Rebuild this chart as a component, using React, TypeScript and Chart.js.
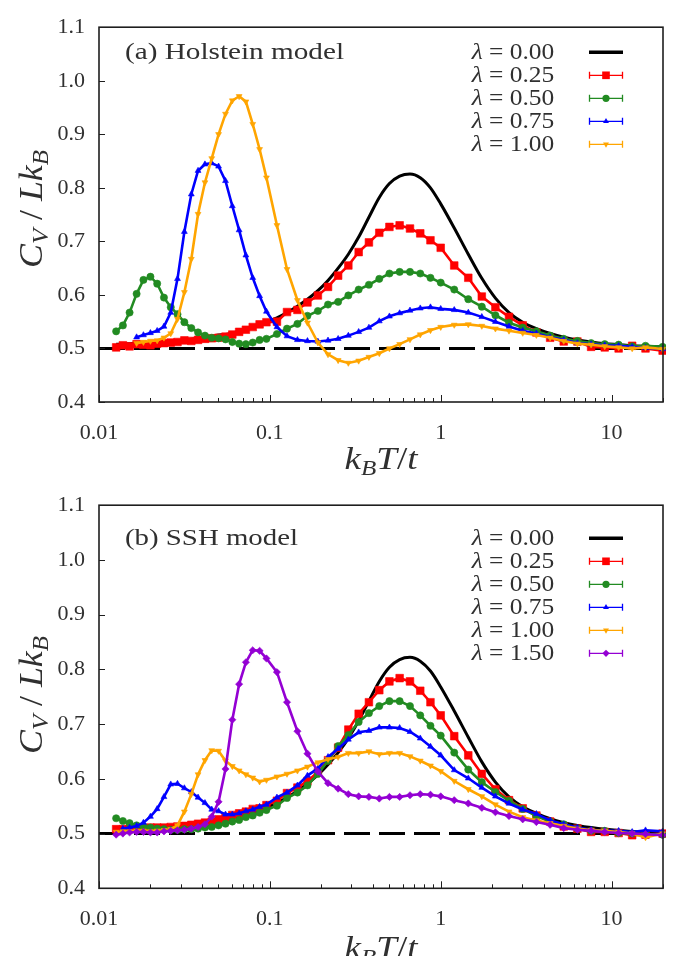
import React, { useEffect, useRef } from "react";
import { Chart, registerables } from "chart.js";

Chart.register(...registerables);

// ---------------- data ----------------
const temperatures = [
  0.0126, 0.0138, 0.0151, 0.0166, 0.0182, 0.02, 0.0219, 0.024, 0.0263, 0.0288,
  0.0316, 0.0347, 0.038, 0.0417, 0.0457, 0.0501, 0.055, 0.0603, 0.0661, 0.0724,
  0.0794, 0.0871, 0.0955, 0.11, 0.126, 0.145, 0.166, 0.191, 0.219, 0.251,
  0.288, 0.331, 0.38, 0.437, 0.501, 0.575, 0.661, 0.759, 0.871, 1.0,
  1.2, 1.45, 1.74, 2.09, 2.51, 3.02, 3.63, 4.37, 5.25, 6.31,
  7.59, 9.12, 11.0, 13.2, 15.8, 19.9,
];

// (a) Holstein model
const holsteinL000 = [
  0.508, 0.508, 0.509, 0.51, 0.51, 0.511, 0.511, 0.513, 0.513, 0.514,
  0.516, 0.517, 0.519, 0.52, 0.522, 0.525, 0.526, 0.529, 0.532, 0.536,
  0.54, 0.544, 0.549, 0.557, 0.567, 0.579, 0.592, 0.608, 0.627, 0.65,
  0.676, 0.708, 0.745, 0.782, 0.808, 0.822, 0.826, 0.819, 0.8, 0.77,
  0.725, 0.676, 0.631, 0.594, 0.567, 0.549, 0.537, 0.528, 0.521, 0.516,
  0.512, 0.509, 0.507, 0.505, 0.504, 0.503,
];
const holsteinL025 = [
  0.502, 0.506, 0.504, 0.508, 0.507, 0.506, 0.509, 0.51, 0.511, 0.512,
  0.515, 0.514, 0.516, 0.518, 0.519, 0.52, 0.522, 0.526, 0.531, 0.535,
  0.54, 0.545, 0.549, 0.55, 0.568, 0.572, 0.586, 0.599, 0.615, 0.636,
  0.655, 0.68, 0.698, 0.716, 0.727, 0.73, 0.724, 0.715, 0.702, 0.688,
  0.655, 0.632, 0.597, 0.577, 0.559, 0.543, 0.53, 0.52, 0.513, 0.513,
  0.503, 0.502, 0.5, 0.505, 0.5, 0.496,
];
const holsteinL050 = [
  0.532, 0.543, 0.567, 0.602, 0.628, 0.634, 0.621, 0.595, 0.577, 0.564,
  0.549, 0.538, 0.53, 0.524, 0.52, 0.519, 0.517, 0.512, 0.509, 0.508,
  0.511, 0.516, 0.518, 0.527, 0.537, 0.546, 0.561, 0.57, 0.582, 0.587,
  0.599, 0.61, 0.619, 0.63, 0.64, 0.643, 0.643, 0.64, 0.632, 0.623,
  0.61, 0.592, 0.578, 0.562, 0.548, 0.539, 0.532, 0.524, 0.518, 0.514,
  0.51, 0.508, 0.507, 0.504, 0.505, 0.503,
];
const holsteinL075 = [
  null, null, null, 0.521, 0.525, 0.529, 0.533, 0.541, 0.567, 0.63,
  0.718, 0.788, 0.832, 0.844, 0.846, 0.84, 0.813, 0.766, 0.721, 0.674,
  0.632, 0.598, 0.569, 0.54, 0.523, 0.516, 0.514, 0.513, 0.515, 0.518,
  0.524, 0.531, 0.539, 0.551, 0.56, 0.566, 0.571, 0.575, 0.577, 0.574,
  0.572, 0.567, 0.559, 0.55, 0.541, 0.533, 0.528, 0.521, 0.516, 0.51,
  0.508, 0.506, 0.505, 0.503, 0.501, 0.499,
];
const holsteinL100 = [
  null, null, null, 0.51, 0.512, 0.514, 0.515, 0.52, 0.528, 0.555,
  0.605, 0.667, 0.751, 0.81, 0.855, 0.9, 0.938, 0.963, 0.971, 0.961,
  0.919, 0.872, 0.819, 0.73, 0.648, 0.59, 0.548, 0.511, 0.489, 0.478,
  0.473, 0.477, 0.484, 0.491, 0.5, 0.508, 0.517, 0.526, 0.534, 0.54,
  0.544, 0.545, 0.542, 0.537, 0.533, 0.529, 0.525, 0.52, 0.514, 0.509,
  0.507, 0.504, 0.502, 0.5, 0.502, 0.499,
];

// (b) SSH model
const sshL000 = [
  0.506, 0.507, 0.508, 0.509, 0.51, 0.511, 0.511, 0.512, 0.513, 0.514,
  0.515, 0.517, 0.518, 0.52, 0.522, 0.524, 0.526, 0.529, 0.532, 0.535,
  0.539, 0.543, 0.548, 0.556, 0.566, 0.578, 0.591, 0.607, 0.626, 0.648,
  0.674, 0.706, 0.742, 0.778, 0.804, 0.818, 0.822, 0.815, 0.797, 0.768,
  0.724, 0.676, 0.631, 0.594, 0.567, 0.549, 0.537, 0.527, 0.52, 0.515,
  0.511, 0.508, 0.506, 0.504, 0.503, 0.502,
];
const sshL025 = [
  0.508, 0.508, 0.509, 0.509, 0.51, 0.511, 0.511, 0.511, 0.512, 0.513,
  0.514, 0.516, 0.518, 0.52, 0.522, 0.526, 0.53, 0.534, 0.537, 0.54,
  0.545, 0.546, 0.552, 0.56, 0.574, 0.584, 0.596, 0.612, 0.634, 0.657,
  0.69, 0.719, 0.74, 0.762, 0.778, 0.784, 0.778, 0.761, 0.74, 0.716,
  0.678, 0.643, 0.609, 0.581, 0.561, 0.546, 0.533, 0.522, 0.513, 0.509,
  0.503, 0.503, 0.501, 0.497, 0.498, 0.5,
];
const sshL050 = [
  0.528, 0.523, 0.519, 0.515, 0.513, 0.511, 0.509, 0.508, 0.507, 0.507,
  0.508, 0.508, 0.509, 0.511, 0.512, 0.515, 0.518, 0.522, 0.525, 0.53,
  0.533, 0.538, 0.543, 0.551, 0.565, 0.575, 0.588, 0.609, 0.633, 0.66,
  0.68, 0.704, 0.72, 0.733, 0.742, 0.742, 0.733, 0.716, 0.697, 0.679,
  0.648, 0.617, 0.594, 0.576, 0.56, 0.545, 0.532, 0.522, 0.517, 0.509,
  0.505, 0.505, 0.501, 0.5, 0.499, 0.498,
];
const sshL075 = [
  null, 0.509, 0.511, 0.514, 0.52, 0.531, 0.545, 0.567, 0.59, 0.591,
  0.583, 0.576, 0.566, 0.556, 0.544, 0.541, 0.535, 0.535, 0.537, 0.541,
  0.544, 0.549, 0.553, 0.566, 0.575, 0.588, 0.606, 0.619, 0.64, 0.655,
  0.672, 0.685, 0.688, 0.694, 0.694, 0.693, 0.686, 0.674, 0.659, 0.643,
  0.616, 0.601, 0.584, 0.568, 0.555, 0.544, 0.536, 0.524, 0.517, 0.511,
  0.507, 0.505, 0.505, 0.503, 0.506, 0.504,
];
const sshL100 = [
  0.503, 0.504, 0.504, 0.505, 0.505, 0.504, 0.505, 0.506, 0.508, 0.515,
  0.54, 0.572, 0.608, 0.634, 0.652, 0.651, 0.633, 0.623, 0.615, 0.608,
  0.602, 0.595, 0.598, 0.604, 0.609, 0.615, 0.622, 0.63, 0.636, 0.64,
  0.647, 0.647, 0.65, 0.645, 0.647, 0.647, 0.641, 0.633, 0.624, 0.614,
  0.596, 0.581, 0.568, 0.553, 0.54, 0.53, 0.524, 0.519, 0.514, 0.509,
  0.506, 0.505, 0.503, 0.5, 0.493, 0.5,
];
const sshL150 = [
  0.498, 0.5, 0.502, 0.503, 0.503, 0.502, 0.502, 0.504, 0.505, 0.506,
  0.507, 0.509, 0.512, 0.517, 0.531, 0.558, 0.618, 0.708, 0.773, 0.813,
  0.835, 0.834, 0.82, 0.795, 0.74, 0.687, 0.646, 0.613, 0.592, 0.582,
  0.572, 0.568, 0.567, 0.564, 0.567, 0.567, 0.57, 0.572, 0.571, 0.568,
  0.561, 0.555, 0.547, 0.539, 0.532, 0.526, 0.521, 0.516, 0.51, 0.507,
  0.505, 0.503, 0.501, 0.5, 0.499, 0.497,
];

const classicalLimit = 0.5;
const xRange = [0.01, 20];
const yRange = [0.4, 1.1];
const xTickValues = [0.01, 0.1, 1, 10];
const xTickLabels = ["0.01", "0.1", "1", "10"];
const yTickValues = [0.4, 0.5, 0.6, 0.7, 0.8, 0.9, 1.0, 1.1];
const minorMultipliers = [1, 2, 3, 4, 5, 6, 7, 8, 9];

// ---------------- styles ----------------
const TEXT = "#303030";
const SERIF = '"Liberation Serif", "DejaVu Serif", serif';

type Style = { color: string; marker: string | null; radius: number; rotation: number; width: number };
const styles: Record<string, Style> = {
  "0.00": { color: "#000000", marker: null, radius: 0, rotation: 0, width: 3 },
  "0.25": { color: "#ff0000", marker: "rect", radius: 5.4, rotation: 0, width: 2.6 },
  "0.50": { color: "#228b22", marker: "circle", radius: 3.6, rotation: 0, width: 2.6 },
  "0.75": { color: "#0000ff", marker: "triangle", radius: 3.4, rotation: 0, width: 2.6 },
  "1.00": { color: "#ffa500", marker: "triangle", radius: 3.4, rotation: 180, width: 2.6 },
  "1.50": { color: "#9400d3", marker: "rectRot", radius: 3.6, rotation: 0, width: 2.6 },
};

type Panel = {
  title: string;
  titleWidth: number;
  titleBaseline: number;
  padTop: number;
  xAxisHeight: number;
  legendBaseline: number;
  yTitleCenter: number;
  xTitleBaseline: number;
  series: [string, (number | null)[]][];
};

const panels: Panel[] = [
  {
    title: "(a) Holstein model",
    titleWidth: 219,
    titleBaseline: 59,
    padTop: 16.3,
    xAxisHeight: 76,
    legendBaseline: 59.3,
    yTitleCenter: 209,
    xTitleBaseline: 469,
    series: [
      ["0.00", holsteinL000],
      ["0.25", holsteinL025],
      ["0.50", holsteinL050],
      ["0.75", holsteinL075],
      ["1.00", holsteinL100],
    ],
  },
  {
    title: "(b) SSH model",
    titleWidth: 173,
    titleBaseline: 67,
    padTop: 25.3,
    xAxisHeight: 67.7,
    legendBaseline: 67.3,
    yTitleCenter: 217,
    xTitleBaseline: 480,
    series: [
      ["0.00", sshL000],
      ["0.25", sshL025],
      ["0.50", sshL050],
      ["0.75", sshL075],
      ["1.00", sshL100],
      ["1.50", sshL150],
    ],
  },
];

// ---------------- drawing helpers ----------------
type Run = { t: string; f: string; dy?: number };

function drawRuns(
  ctx: CanvasRenderingContext2D,
  runs: Run[],
  x: number,
  y: number,
  targetW: number,
  align: "left" | "right" | "center",
  rot = 0
) {
  ctx.save();
  const widths: number[] = [];
  let total = 0;
  for (const r of runs) {
    ctx.font = r.f;
    const w = ctx.measureText(r.t).width;
    widths.push(w);
    total += w;
  }
  const sx = targetW / total;
  ctx.translate(x, y);
  if (rot) ctx.rotate(rot);
  const x0 = align === "left" ? 0 : align === "right" ? -targetW : -targetW / 2;
  ctx.translate(x0, 0);
  ctx.scale(sx, 1);
  ctx.fillStyle = TEXT;
  ctx.textAlign = "left";
  ctx.textBaseline = "alphabetic";
  let cx = 0;
  runs.forEach((r, i) => {
    ctx.font = r.f;
    ctx.fillText(r.t, cx, r.dy || 0);
    cx += widths[i];
  });
  ctx.restore();
}

function drawMarker(ctx: CanvasRenderingContext2D, st: Style, x: number, y: number) {
  const r = st.radius;
  ctx.fillStyle = st.color;
  ctx.beginPath();
  if (st.marker === "rect") {
    const s = r * Math.SQRT1_2;
    ctx.rect(x - s, y - s, 2 * s, 2 * s);
  } else if (st.marker === "circle") {
    ctx.arc(x, y, r, 0, Math.PI * 2);
  } else if (st.marker === "triangle") {
    const flip = st.rotation === 180 ? -1 : 1;
    for (let k = 0; k < 3; k++) {
      const a = (k * 2 * Math.PI) / 3;
      const px = x + Math.sin(a) * r;
      const py = y - flip * Math.cos(a) * r;
      if (k === 0) ctx.moveTo(px, py);
      else ctx.lineTo(px, py);
    }
    ctx.closePath();
  } else if (st.marker === "rectRot") {
    ctx.moveTo(x, y - r);
    ctx.lineTo(x + r, y);
    ctx.lineTo(x, y + r);
    ctx.lineTo(x - r, y);
    ctx.closePath();
  }
  ctx.fill();
}

function makeDecor(panel: Panel) {
  return {
    id: "decor",
    afterDatasetsDraw(chart: any) {
      const { ctx, chartArea } = chart;
      const { left, right, top, bottom } = chartArea;
      const xs = chart.scales.x;
      const ys = chart.scales.y;
      ctx.save();
      ctx.strokeStyle = "#1e1e1e";
      ctx.lineWidth = 1;
      ctx.beginPath();
      for (const d of xTickValues) {
        for (const m of minorMultipliers) {
          const v = d * m;
          if (v > xRange[1]) continue;
          const px = Math.round(xs.getPixelForValue(v)) + 0.5;
          const len = m === 1 ? 7 : 4;
          ctx.moveTo(px, bottom);
          ctx.lineTo(px, bottom - len);
        }
      }
      for (const v of yTickValues) {
        const py = Math.round(ys.getPixelForValue(v)) + 0.5;
        ctx.moveTo(left, py);
        ctx.lineTo(left + 6, py);
      }
      ctx.stroke();
      ctx.lineWidth = 1.6;
      ctx.strokeRect(left, top, right - left, bottom - top);
      ctx.restore();
    },
    afterDraw(chart: any) {
      const ctx: CanvasRenderingContext2D = chart.ctx;
      // panel label
      drawRuns(ctx, [{ t: panel.title, f: `24px ${SERIF}` }], 125, panel.titleBaseline, panel.titleWidth, "left");
      // legend
      panel.series.forEach(([lam], i) => {
        const base = panel.legendBaseline + i * 23;
        drawRuns(
          ctx,
          [
            { t: "λ", f: `italic 23px ${SERIF}` },
            { t: " = " + lam, f: `23px ${SERIF}` },
          ],
          554.3,
          base,
          82.6,
          "right"
        );
        const st = styles[lam];
        const cy = base - 7;
        ctx.save();
        ctx.strokeStyle = st.color;
        if (!st.marker) {
          ctx.lineWidth = 3.4;
          ctx.beginPath();
          ctx.moveTo(589, cy);
          ctx.lineTo(623, cy);
          ctx.stroke();
        } else {
          ctx.lineWidth = 1.3;
          ctx.beginPath();
          ctx.moveTo(589, cy);
          ctx.lineTo(623, cy);
          ctx.moveTo(589.5, cy - 3.5);
          ctx.lineTo(589.5, cy + 3.5);
          ctx.moveTo(622.5, cy - 3.5);
          ctx.lineTo(622.5, cy + 3.5);
          ctx.stroke();
          drawMarker(ctx, st, 606, cy);
        }
        ctx.restore();
      });
      // y title  C_V / L k_B
      drawRuns(
        ctx,
        [
          { t: "C", f: `italic 33px ${SERIF}` },
          { t: "V", f: `italic 23px ${SERIF}`, dy: 6 },
          { t: " / ", f: `33px ${SERIF}` },
          { t: "Lk", f: `italic 33px ${SERIF}` },
          { t: "B", f: `italic 23px ${SERIF}`, dy: 6 },
        ],
        42,
        panel.yTitleCenter,
        118,
        "center",
        -Math.PI / 2
      );
      // x title  k_B T / t
      drawRuns(
        ctx,
        [
          { t: "k", f: `italic 31px ${SERIF}` },
          { t: "B", f: `italic 21px ${SERIF}`, dy: 6 },
          { t: "T", f: `italic 31px ${SERIF}` },
          { t: "/", f: `31px ${SERIF}` },
          { t: "t", f: `italic 31px ${SERIF}` },
        ],
        381,
        panel.xTitleBaseline,
        73,
        "center"
      );
    },
  };
}

function buildChart(canvas: HTMLCanvasElement, panel: Panel) {
  const datasets: any[] = [
    {
      type: "line",
      label: "classical limit",
      data: [
        { x: xRange[0], y: classicalLimit },
        { x: xRange[1], y: classicalLimit },
      ],
      borderColor: "#000000",
      borderWidth: 3,
      borderDash: [26, 9],
      pointRadius: 0,
      order: 100,
    },
  ];
  panel.series.forEach(([lam, values], i) => {
    const st = styles[lam];
    const data = temperatures
      .map((t, k) => (values[k] == null ? null : { x: t, y: values[k] as number }))
      .filter((p) => p !== null);
    datasets.push({
      type: "line",
      label: "λ = " + lam,
      data,
      borderColor: st.color,
      backgroundColor: st.color,
      borderWidth: st.width,
      pointRadius: st.marker ? st.radius : 0,
      pointStyle: st.marker || "circle",
      pointRotation: st.rotation,
      pointBackgroundColor: st.color,
      pointBorderColor: st.color,
      pointBorderWidth: 0.6,
      tension: st.marker ? 0 : 0.4,
      cubicInterpolationMode: st.marker ? "default" : "monotone",
      clip: 3,
      order: 90 - i * 10,
    });
  });

  const tickFont = { family: SERIF, size: 22 };
  return new Chart(canvas, {
    type: "line",
    data: { datasets },
    plugins: [makeDecor(panel)],
    options: {
      responsive: false,
      animation: false,
      devicePixelRatio: 1,
      layout: { padding: { left: 0, right: 10, top: panel.padTop, bottom: 0 } },
      plugins: { legend: { display: false }, tooltip: { enabled: false } },
      events: [],
      scales: {
        x: {
          type: "logarithmic",
          min: xRange[0],
          max: xRange[1],
          grid: { display: false, drawTicks: false },
          border: { display: false },
          afterBuildTicks: (s: any) => {
            s.ticks = xTickValues.map((v) => ({ value: v }));
          },
          afterFit: (s: any) => {
            s.height = panel.xAxisHeight;
          },
          ticks: {
            autoSkip: false,
            maxRotation: 0,
            minRotation: 0,
            padding: 18,
            color: TEXT,
            font: tickFont,
            callback: (v: any) => {
              const i = xTickValues.findIndex((t) => Math.abs(t - Number(v)) / t < 1e-6);
              return i >= 0 ? xTickLabels[i] : "";
            },
          },
        },
        y: {
          type: "linear",
          min: yRange[0],
          max: yRange[1],
          grid: { display: false, drawTicks: false },
          border: { display: false },
          afterBuildTicks: (s: any) => {
            s.ticks = yTickValues.map((v) => ({ value: v }));
          },
          afterFit: (s: any) => {
            s.width = 99;
          },
          ticks: {
            padding: 14,
            color: TEXT,
            font: tickFont,
            callback: (v: any) => Number(v).toFixed(1),
          },
        },
      },
    } as any,
  });
}

export default function App() {
  const topRef = useRef<HTMLCanvasElement>(null);
  const botRef = useRef<HTMLCanvasElement>(null);
  useEffect(() => {
    const a = buildChart(topRef.current as HTMLCanvasElement, panels[0]);
    const b = buildChart(botRef.current as HTMLCanvasElement, panels[1]);
    return () => {
      a.destroy();
      b.destroy();
    };
  }, []);
  return (
    <div style={{ position: "absolute", left: 0, top: 0, width: 673, height: 956, background: "#ffffff", overflow: "hidden" }}>
      <canvas ref={topRef} width={673} height={478} style={{ display: "block", width: 673, height: 478 }} />
      <canvas ref={botRef} width={673} height={478} style={{ display: "block", width: 673, height: 478 }} />
    </div>
  );
}
